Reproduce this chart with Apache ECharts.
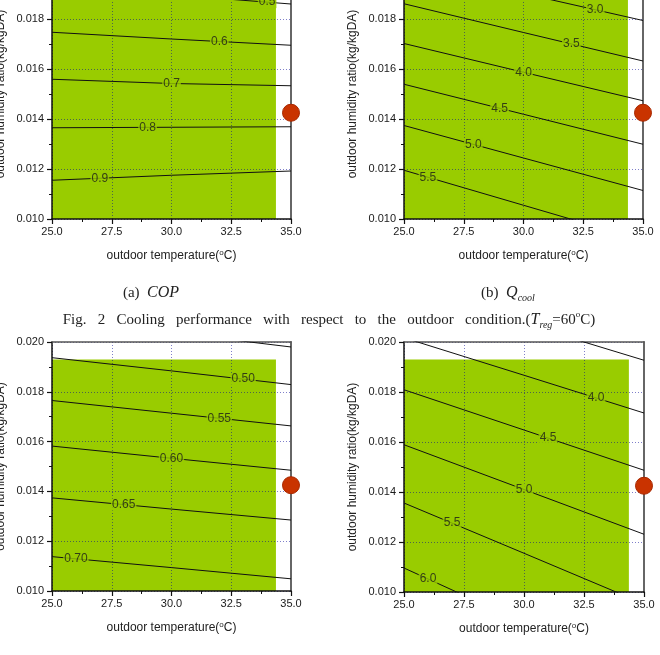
<!DOCTYPE html>
<html>
<head>
<meta charset="utf-8">
<script src="https://cdn.jsdelivr.net/npm/echarts@6/dist/echarts.min.js"></script>
<style>
  html, body { margin: 0; padding: 0; background: #fff; }
  #chart { width: 660px; height: 655px; }
</style>
</head>
<body>
<div id="chart"></div>
<script>
// x positions where each contour was read (outdoor temperature, °C)
var tempX = [25, 30, 35]

// (a) COP, top left
var copALevels = ['0.9', '0.8', '0.7', '0.6', '0.5']
var copAHumid = [
  [0.01155, 0.01175, 0.01192],
  [0.01365, 0.01367, 0.01369],
  [0.01559, 0.01542, 0.01533],
  [0.01747, 0.01720, 0.01695],
  [0.01934, 0.01897, 0.01860]
]
var copALabelT = [27.0, 29.0, 30.0, 32.0, 34.0]

// (b) Qcool, top right
var qA_Levels = ['5.5', '5.0', '4.5', '4.0', '3.5', '3.0']
var qA_Humid = [
  [0.01195, 0.01055, 0.00915],
  [0.01374, 0.01244, 0.01114],
  [0.01539, 0.01419, 0.01299],
  [0.01702, 0.01587, 0.01473],
  [0.01861, 0.01746, 0.01632],
  [0.02011, 0.01902, 0.01794]
]
var qA_LabelT = [26.0, 27.9, 29.0, 30.0, 32.0, 33.0]

// COP, bottom left
var copBLevels = ['0.70', '0.65', '0.60', '0.55', '0.50', '0.45']
var copBHumid = [
  [0.01138, 0.01094, 0.01049],
  [0.01374, 0.01329, 0.01285],
  [0.01582, 0.01533, 0.01485],
  [0.01765, 0.01714, 0.01663],
  [0.01937, 0.01884, 0.01829],
  [0.02096, 0.02038, 0.01980]
]
var copBLabelT = [26.0, 28.0, 30.0, 32.0, 33.0]

// Qcool, bottom right
var qB_Levels = ['6.0', '5.5', '5.0', '4.5', '4.0', '3.5']
var qB_Humid = [
  [0.01096, 0.00877, 0.00658],
  [0.01356, 0.01155, 0.00953],
  [0.01589, 0.01410, 0.01231],
  [0.01809, 0.01648, 0.01487],
  [0.02017, 0.01867, 0.01716],
  [0.02220, 0.02073, 0.01927]
]
var qB_LabelT = [26.0, 27.0, 30.0, 31.0, 33.0]

// operating range (green) and design point (red dot)
var rangeT = [25, 34.37]
var rangeW = [0.010, 0.0193]
var designPoint = [35, 0.01425]

var xTicks = { min: 25, max: 35, interval: 2.5 }
var yTicks = { min: 0.010, max: 0.020, interval: 0.002 }

var panels = [
  { levels: copALevels, humid: copAHumid, labelT: copALabelT },
  { levels: qA_Levels, humid: qA_Humid, labelT: qA_LabelT },
  { levels: copBLevels, humid: copBHumid, labelT: copBLabelT },
  { levels: qB_Levels, humid: qB_Humid, labelT: qB_LabelT }
]

var GREEN = '#99cc00'
var FONT = 'Liberation Sans, Arial, sans-serif'
var SERIF = 'Liberation Serif, DejaVu Serif, serif'

function interp(xs, ys, x) {
  for (var i = 0; i < xs.length - 1; i++) {
    if (x <= xs[i + 1]) {
      var t = (x - xs[i]) / (xs[i + 1] - xs[i])
      return ys[i] + t * (ys[i + 1] - ys[i])
    }
  }
  return ys[ys.length - 1]
}

// top row is cut at the top of the page, so its grids start above 0
var grids = [
  { left: 52, top: -31, width: 239, height: 250, outerBoundsMode: 'none' },
  { left: 404, top: -31, width: 239, height: 250, outerBoundsMode: 'none' },
  { left: 52, top: 342, width: 239, height: 249, outerBoundsMode: 'none' },
  { left: 404, top: 342, width: 240, height: 250, outerBoundsMode: 'none' }
]

var xAxes = []
var yAxes = []
var series = []

panels.forEach(function(p, i) {
  // bottom x axis
  xAxes.push({
    type: 'value', gridIndex: i, min: xTicks.min, max: xTicks.max, interval: xTicks.interval,
    z: 3,
    name: 'outdoor temperature({sup|o}C)',
    nameLocation: 'middle',
    nameGap: 37,
    nameTextStyle: {
      fontFamily: FONT, fontSize: 12, color: '#222', verticalAlign: 'middle',
      rich: { sup: { fontSize: 8, verticalAlign: 'top', lineHeight: 14, fontFamily: FONT, color: '#222' } }
    },
    axisLine: { show: true, onZero: false, lineStyle: { color: '#111', width: 1.5 } },
    axisTick: { show: true, length: 5, lineStyle: { color: '#111', width: 1.2 } },
    minorTick: { show: true, splitNumber: 2, length: 3, lineStyle: { color: '#111', width: 1 } },
    axisLabel: { fontFamily: FONT, fontSize: 11, color: '#1a1a1a', margin: 7, formatter: function(v) { return v.toFixed(1) } },
    splitLine: { show: true, lineStyle: { color: 'rgba(0,0,150,0.5)', type: [1, 2], width: 1 } }
  })
  // top frame
  xAxes.push({
    type: 'value', gridIndex: i, position: 'top', min: xTicks.min, max: xTicks.max, z: 3,
    axisLine: { show: true, onZero: false, lineStyle: { color: '#555', width: 1.5 } },
    axisTick: { show: false }, axisLabel: { show: false }, splitLine: { show: false }
  })
  // left y axis
  yAxes.push({
    type: 'value', gridIndex: i, min: yTicks.min, max: yTicks.max, interval: yTicks.interval,
    z: 3,
    name: 'outdoor humidity ratio(kg/kgDA)',
    nameLocation: 'middle',
    nameGap: 51,
    nameTextStyle: { fontFamily: FONT, fontSize: 12, color: '#222', verticalAlign: 'middle' },
    axisLine: { show: true, onZero: false, lineStyle: { color: '#111', width: 1.5 } },
    axisTick: { show: true, length: 5, lineStyle: { color: '#111', width: 1.2 } },
    minorTick: { show: true, splitNumber: 2, length: 3, lineStyle: { color: '#111', width: 1 } },
    axisLabel: { fontFamily: FONT, fontSize: 11, color: '#1a1a1a', margin: 8, formatter: function(v) { return v.toFixed(3) } },
    splitLine: { show: true, lineStyle: { color: 'rgba(0,0,150,0.5)', type: [1, 2], width: 1 } }
  })
  // right frame
  yAxes.push({
    type: 'value', gridIndex: i, position: 'right', min: yTicks.min, max: yTicks.max, z: 3,
    axisLine: { show: true, onZero: false, lineStyle: { color: '#666', width: 2 } },
    axisTick: { show: false }, axisLabel: { show: false }, splitLine: { show: false }
  })

  var xi = i * 2
  var yi = i * 2

  // green operating range
  series.push({
    type: 'line', xAxisIndex: xi, yAxisIndex: yi, data: [], z: 1, silent: true,
    markArea: {
      silent: true,
      itemStyle: { color: GREEN, opacity: 1 },
      data: [[{ coord: [rangeT[0], rangeW[0]] }, { coord: [rangeT[1], rangeW[1]] }]]
    }
  })

  // contour lines
  p.humid.forEach(function(ys) {
    series.push({
      type: 'line', xAxisIndex: xi, yAxisIndex: yi, z: 4, clip: true,
      symbol: 'none', silent: true,
      lineStyle: { color: '#111', width: 1 },
      data: tempX.map(function(t, j) { return [t, ys[j]] })
    })
  })

  // contour labels
  series.push({
    type: 'scatter', xAxisIndex: xi, yAxisIndex: yi, z: 5, symbolSize: 1,
    itemStyle: { color: 'rgba(0,0,0,0)' }, silent: true,
    label: {
      show: true, position: 'inside', color: '#1a1a1a', fontFamily: FONT, fontSize: 12,
      backgroundColor: GREEN, padding: [0, 1],
      formatter: function(d) { return d.data[2] }
    },
    data: p.labelT.map(function(t, k) {
      return [t, interp(tempX, p.humid[k], t), p.levels[k]]
    })
  })

  // design point
  series.push({
    type: 'scatter', xAxisIndex: xi, yAxisIndex: yi, z: 6, clip: false,
    symbolSize: 17, silent: true,
    itemStyle: { color: '#c93300', opacity: 1, borderColor: '#a82800', borderWidth: 1 },
    data: [designPoint]
  })
})

var captionRich = {
  i: { fontFamily: SERIF, fontSize: 16, fontStyle: 'italic', color: '#222', lineHeight: 20 },
  sub: { fontFamily: SERIF, fontSize: 10, fontStyle: 'italic', color: '#222', verticalAlign: 'bottom', lineHeight: 10 },
  sup: { fontFamily: SERIF, fontSize: 9, color: '#222', verticalAlign: 'top', lineHeight: 9 }
}

var option = {
  animation: false,
  backgroundColor: '#fff',
  grid: grids,
  xAxis: xAxes,
  yAxis: yAxes,
  series: series,
  graphic: [
    {
      type: 'text', x: 151, y: 293,
      style: {
        text: '(a)  {i|COP}', x: 0, y: 0, align: 'center', verticalAlign: 'middle',
        fontFamily: SERIF, fontSize: 15, fill: '#222', lineHeight: 20, rich: captionRich
      }
    },
    {
      type: 'text', x: 508, y: 293,
      style: {
        text: '(b)  {i|Q}{sub|cool}', x: 0, y: 0, align: 'center', verticalAlign: 'middle',
        fontFamily: SERIF, fontSize: 15, fill: '#222', lineHeight: 20, rich: captionRich
      }
    },
    {
      type: 'text', x: 329, y: 320,
      style: {
        text: 'Fig.   2   Cooling   performance   with   respect   to   the   outdoor   condition.({i|T}{sub|reg}=60{sup|o}C)',
        x: 0, y: 0, align: 'center', verticalAlign: 'middle',
        fontFamily: SERIF, fontSize: 15, fill: '#222', lineHeight: 20, rich: captionRich
      }
    }
  ]
}

var myChart = echarts.init(document.getElementById('chart'))
myChart.setOption(option)
</script>
</body>
</html>
